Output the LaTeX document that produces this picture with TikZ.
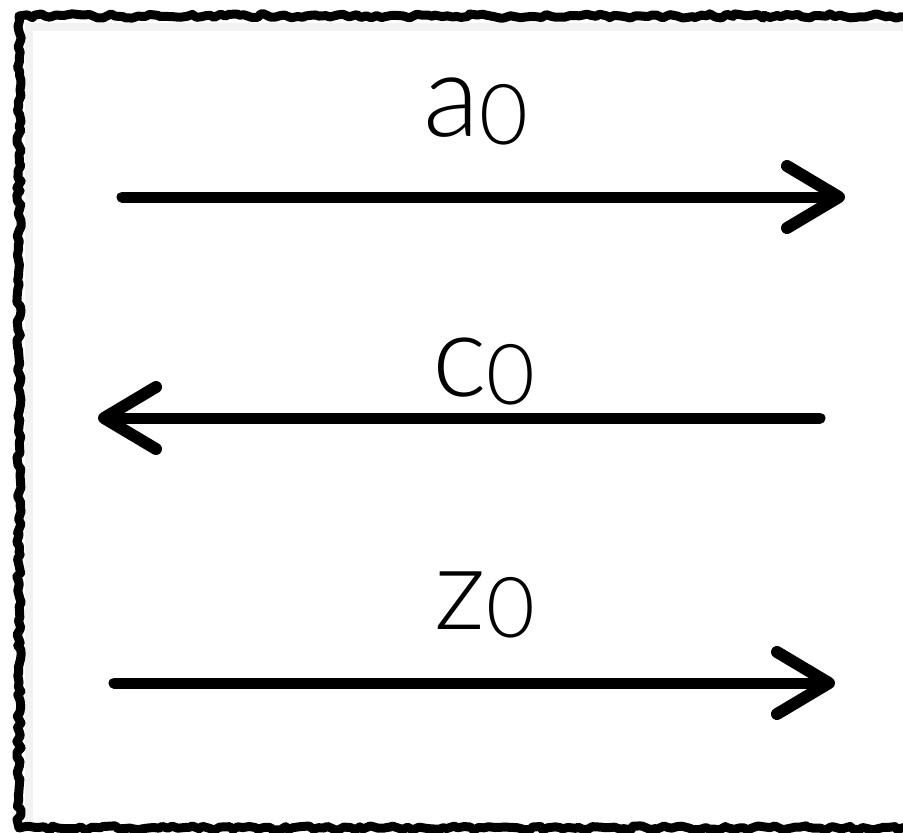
\documentclass[tikz,border=0pt]{standalone}
\usepackage{fontspec}
\setmainfont{Lato Light}
\usetikzlibrary{arrows.meta,decorations.pathmorphing}
\newcommand\lowsub[1]{\raisebox{-4pt}{\fontsize{42}{45}\selectfont #1}}

\begin{document}
\begin{tikzpicture}[x=0.5pt,y=-0.5pt,
  frm/.style={line width=4.5pt,line join=round,decorate,
              decoration={random steps,segment length=2.5pt,amplitude=1.1pt}},
  shd/.style={black!5,line width=4pt},
  arw/.style={-{Straight Barb[length=26pt,width=31pt,line width=6pt,round]},
              line width=5.5pt,line cap=round},
  lbl/.style={font=\fontsize{58}{62}\selectfont,inner sep=0pt,anchor=base}
]
  \pgfmathsetmacro\dummy{0}
  \pgfmathsetseed{7}
  \useasboundingbox (0,0) rectangle (903,832);
  \clip (0,0) rectangle (903,832);
  \draw[shd] (29,822) -- (29,27) -- (915,27);
  \draw[frm] (19,16) rectangle (916,828);

  \coordinate (a0s) at (122,197);
  \coordinate (a0e) at (845,197);
  \coordinate (c0s) at (820,418);
  \coordinate (c0e) at (98,418);
  \coordinate (z0s) at (114,683);
  \coordinate (z0e) at (835,683);

  \node[lbl] (a0) at (476,136) {a\lowsub{0}};
  \node[lbl] (c0) at (484,396) {c\lowsub{0}};
  \node[lbl] (z0) at (485,629) {z\lowsub{0}};

  \draw[arw] (a0s) -- (a0e);
  \draw[arw] (c0s) -- (c0e);
  \draw[arw] (z0s) -- (z0e);
\end{tikzpicture}
\end{document}
